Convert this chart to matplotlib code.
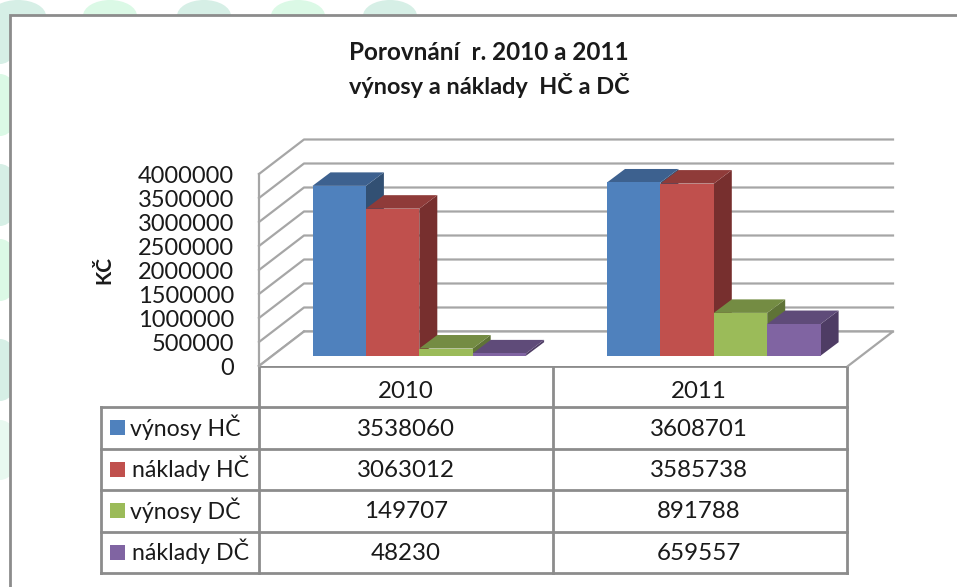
import matplotlib
matplotlib.use('Agg')
import matplotlib.pyplot as plt
from matplotlib.patches import Polygon, Ellipse, Rectangle

years = ['2010', '2011']
series_names = ['výnosy HČ', 'náklady HČ', 'výnosy DČ', 'náklady DČ']
vynosy_hc = [3538060, 3608701]
naklady_hc = [3063012, 3585738]
vynosy_dc = [149707, 891788]
naklady_dc = [48230, 659557]
y_ticks = [0, 500000, 1000000, 1500000, 2000000, 2500000, 3000000, 3500000, 4000000]

front = ['#4f81bd', '#c0504d', '#9bbb59', '#8064a2']
top = ['#3d618f', '#8f3b39', '#748c43', '#5f4b79']
side = ['#325073', '#772f2e', '#5f7337', '#4e3c64']
grid_c = '#a6a6a6'
line_c = '#8c8c8c'
text_c = '#1a1a1a'
teal = '#d6efe6'
green = '#dbf9e6'

W, H = 957, 587
plt.rcParams['font.family'] = ['Lato', 'DejaVu Sans']

fig = plt.figure(figsize=(W / 100, H / 100), dpi=100)

# whole page in pixels, for the frame and the table
page = fig.add_axes([0, 0, 1, 1], zorder=1)
page.set_xlim(0, W)
page.set_ylim(H, 0)
page.axis('off')

# washed out page background behind the frame
for x, w, c in [(18, 56, teal), (110, 54, green), (204, 54, teal), (298, 54, green), (390, 54, teal)]:
    page.add_patch(Ellipse((x, 16), w, 32, fc=c, ec='none', zorder=1))
for y, h, c in [(36, 56, teal), (105, 62, green), (195, 62, teal), (270, 62, green), (370, 62, teal), (450, 60, '#e8f9f0')]:
    page.add_patch(Ellipse((0, y), 40, h, fc=c, ec='none', zorder=1))
page.add_patch(Rectangle((9.5, 14.5), W, H, fc='white', ec=line_c, lw=2, zorder=2))

page.text(489, 52, 'Porovnání  r. 2010 a 2011', ha='center', va='center', fontsize=17.5, fontweight='bold', color=text_c, zorder=5)
page.text(489, 85, 'výnosy a náklady  HČ a DČ', ha='center', va='center', fontsize=16.9, fontweight='bold', color=text_c, zorder=5)
page.text(104, 270, 'KČ', ha='center', va='center', rotation=90, fontsize=15, fontweight='bold', color=text_c, zorder=5)

# chart axes: front plane of the 3D box, x in categories, y in values
x0, x1, ybase, ytop = 259, 848, 366, 174
ax = fig.add_axes([x0 / W, 1 - ybase / H, (x1 - x0) / W, (ybase - ytop) / H], zorder=2)
ax.set_xlim(0, len(years))
ax.set_ylim(0, y_ticks[-1])
ax.axis('off')
ax.patch.set_alpha(0)

px_x = len(years) / (x1 - x0)
px_y = y_ticks[-1] / (ybase - ytop)

# box depth, gridlines on the back wall and the left wall
wall_dx, wall_dy = 45 * px_x, 34.5 * px_y
for v in y_ticks:
    ax.plot([0, wall_dx, len(years) + wall_dx], [v, v + wall_dy, v + wall_dy], color=grid_c, lw=1.6, clip_on=False, zorder=1)
ax.plot([0, 0], [0, y_ticks[-1]], color=grid_c, lw=1.6, clip_on=False, zorder=1)
ax.add_patch(Polygon([(0, 0), (wall_dx, wall_dy), (len(years) + wall_dx, wall_dy), (len(years), 0)],
                     fc='white', ec='none', zorder=1.5, clip_on=False))
ax.plot([wall_dx, len(years) + wall_dx, len(years)], [wall_dy, wall_dy, 0], color=grid_c, lw=1.6, clip_on=False, zorder=1.6)
ax.plot([wall_dx, 0], [wall_dy, 0], color=grid_c, lw=1.6, clip_on=False, zorder=1.6)


def bar3d(left, width, value, i):
    # 3D look, sheared by the bar depth, sitting a little above the front edge
    dx, dy = 18 * px_x, 13.5 * px_y
    base = 10.3 * px_y
    right = left + width
    h = base + value
    ax.add_patch(Polygon([(right, base), (right + dx, base + dy), (right + dx, h + dy), (right, h)], fc=side[i], ec='none', zorder=3, clip_on=False))
    ax.add_patch(Polygon([(left, h), (left + dx, h + dy), (right + dx, h + dy), (right, h)], fc=top[i], ec='none', zorder=3, clip_on=False))
    ax.add_patch(Rectangle((left, base), width, value, fc=front[i], ec='none', zorder=3.1, clip_on=False))


all_series = [vynosy_hc, naklady_hc, vynosy_dc, naklady_dc]
bar_w = 53.4 * px_x
for c in range(len(years)):
    start = c + 53.5 * px_x
    for i, vals in enumerate(all_series):
        bar3d(start + i * bar_w, bar_w, vals[c], i)

for v in y_ticks:
    page.text(234, ybase - (v / px_y) + 2.5, str(v), ha='right', va='center', fontsize=17, color=text_c, zorder=5)

# data table under the chart
tx0, tx1, tx2, tx3 = 101, 259, 553, 847
rows = [407, 449, 490, 532, 573]
page.plot([tx1, tx1], [366, rows[-1]], color=line_c, lw=2, zorder=4)
page.plot([tx2, tx2], [366, rows[-1]], color=line_c, lw=2, zorder=4)
page.plot([tx3, tx3], [366, rows[-1]], color=line_c, lw=2, zorder=4)
page.plot([tx1, tx3], [366, 366], color=line_c, lw=2, zorder=4)
page.plot([tx0, tx0], [rows[0], rows[-1]], color=line_c, lw=2, zorder=4)
for r in rows:
    page.plot([tx0, tx3], [r, r], color=line_c, lw=2, zorder=4)

for c, year in enumerate(years):
    page.text([406, 699][c], 392, year, ha='center', va='center', fontsize=17.3, color=text_c, zorder=5)
for i, name in enumerate(series_names):
    yc = (rows[i] + rows[i + 1]) / 2
    page.add_patch(Rectangle((110, yc - 8), 15, 15, fc=front[i], ec='none', zorder=5))
    page.text([130, 132, 130, 132][i], yc - 1, name, ha='left', va='center', fontsize=16.7, color=text_c, zorder=5)
    for c in range(len(years)):
        page.text([406, 699][c], yc + 1, str(all_series[i][c]), ha='center', va='center', fontsize=17.4, color=text_c, zorder=5)

fig.savefig('out.png', dpi=100)
